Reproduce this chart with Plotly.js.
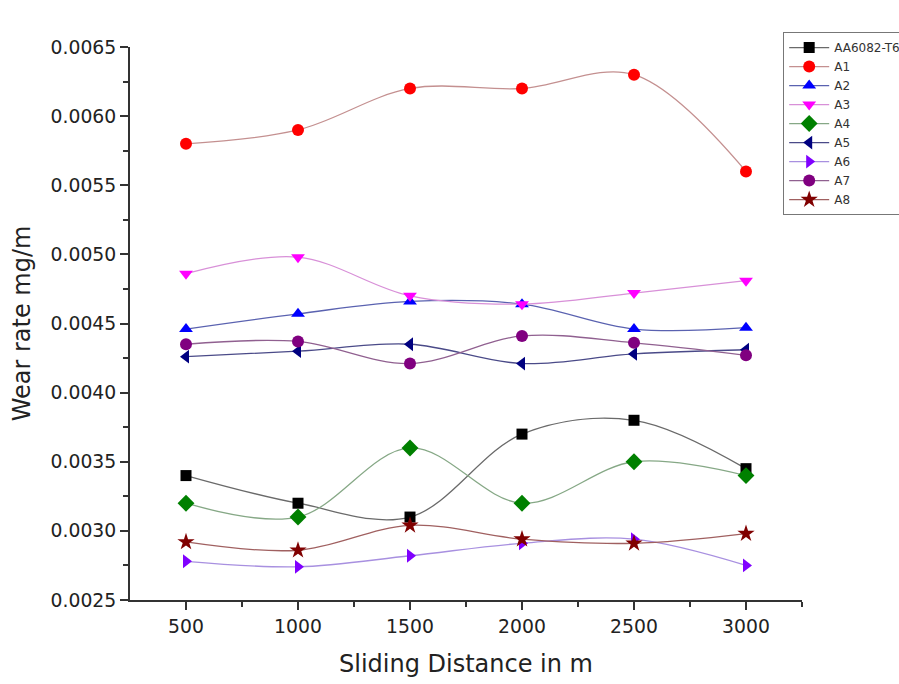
<!DOCTYPE html>
<html>
<head>
<meta charset="utf-8">
<script src="https://cdn.plot.ly/plotly-3.0.1.min.js"></script>
<style>html,body{margin:0;padding:0;background:#fff;overflow:hidden;}#chart{width:899px;height:684px;}</style>
</head>
<body>
<div id="chart"></div>
<script>
var distance = [500, 1000, 1500, 2000, 2500, 3000];
var seriesNames = ["AA6082-T6", "A1", "A2", "A3", "A4", "A5", "A6", "A7", "A8"];
var aa6082 = [0.0034, 0.0032, 0.0031, 0.0037, 0.0038, 0.00345];
var a1 = [0.0058, 0.0059, 0.0062, 0.0062, 0.0063, 0.0056];
var a2 = [0.00446, 0.00457, 0.00466, 0.00464, 0.00446, 0.00447];
var a3 = [0.00486, 0.00498, 0.0047, 0.00464, 0.00472, 0.00481];
var a4 = [0.0032, 0.0031, 0.0036, 0.0032, 0.0035, 0.0034];
var a5 = [0.00426, 0.0043, 0.00435, 0.00421, 0.00428, 0.00431];
var a6 = [0.00278, 0.00274, 0.00282, 0.00291, 0.00294, 0.00275];
var a7 = [0.00435, 0.00437, 0.00421, 0.00441, 0.00436, 0.00427];
var a8 = [0.00292, 0.00286, 0.00304, 0.00294, 0.00291, 0.00298];

var values = [aa6082, a1, a2, a3, a4, a5, a6, a7, a8];
var markerColors = ["#000000", "#ff0000", "#0000ff", "#ff00ff", "#008000", "#000080", "#8000ff", "#800080", "#800000"];
var lineColors = ["#6a6a6a", "#c49090", "#5a62b0", "#d890d8", "#86a886", "#4a4a88", "#a890e0", "#906090", "#a06060"];
var symbols = ["square", "circle", "triangle-up", "triangle-down", "diamond", "triangle-left", "triangle-right", "circle", "star"];
var sizes = [11, 12, 12, 12, 13, 12, 12, 12, 13];

var traces = values.map(function (v, i) {
  return {
    x: distance,
    y: v,
    name: seriesNames[i],
    type: "scatter",
    mode: "lines+markers",
    line: {shape: "spline", smoothing: 1, color: lineColors[i], width: 1.3},
    marker: {symbol: symbols[i], size: sizes[i], color: markerColors[i], line: {width: 0}}
  };
});

var layout = {
  width: 899,
  height: 684,
  paper_bgcolor: "#ffffff",
  plot_bgcolor: "#ffffff",
  margin: {l: 130, r: 97, t: 47, b: 84, autoexpand: false},
  font: {family: "DejaVu Sans, Verdana, sans-serif", color: "#222"},
  showlegend: true,
  legend: {
    x: 0.972, y: 1.027, xanchor: "left", yanchor: "top",
    bgcolor: "#ffffff", bordercolor: "#777", borderwidth: 1,
    font: {size: 12, family: "DejaVu Sans, sans-serif", color: "#333"},
    tracegroupgap: 0, itemwidth: 40
  },
  xaxis: {
    range: [250, 3250],
    tickmode: "array",
    tickvals: distance,
    ticktext: distance.map(String),
    ticks: "outside", ticklen: 8, tickwidth: 1.5, tickcolor: "#333",
    minor: {tickvals: [750, 1250, 1750, 2250, 2750, 3250], ticks: "outside", ticklen: 5, tickwidth: 1.5, tickcolor: "#333", showgrid: false},
    showline: true, linecolor: "#333", linewidth: 2,
    showgrid: false, zeroline: false,
    tickfont: {size: 18.8, color: "#222"},
    title: {text: "Sliding Distance in m", font: {size: 24, color: "#222"}, standoff: 20}
  },
  yaxis: {
    range: [0.0025, 0.0065],
    tickmode: "linear", tick0: 0.0025, dtick: 0.0005,
    tickformat: ".4f",
    ticks: "outside", ticklen: 8, tickwidth: 1.5, tickcolor: "#333",
    minor: {dtick: 0.00025, ticks: "outside", ticklen: 5, tickwidth: 1.5, tickcolor: "#333", showgrid: false},
    showline: true, linecolor: "#333", linewidth: 2,
    showgrid: false, zeroline: false,
    tickfont: {size: 18.8, color: "#222"},
    title: {text: "Wear rate mg/m", font: {size: 24, color: "#222"}, standoff: 13}
  }
};

Plotly.newPlot("chart", traces, layout, {displayModeBar: false, responsive: false});
</script>
</body>
</html>
